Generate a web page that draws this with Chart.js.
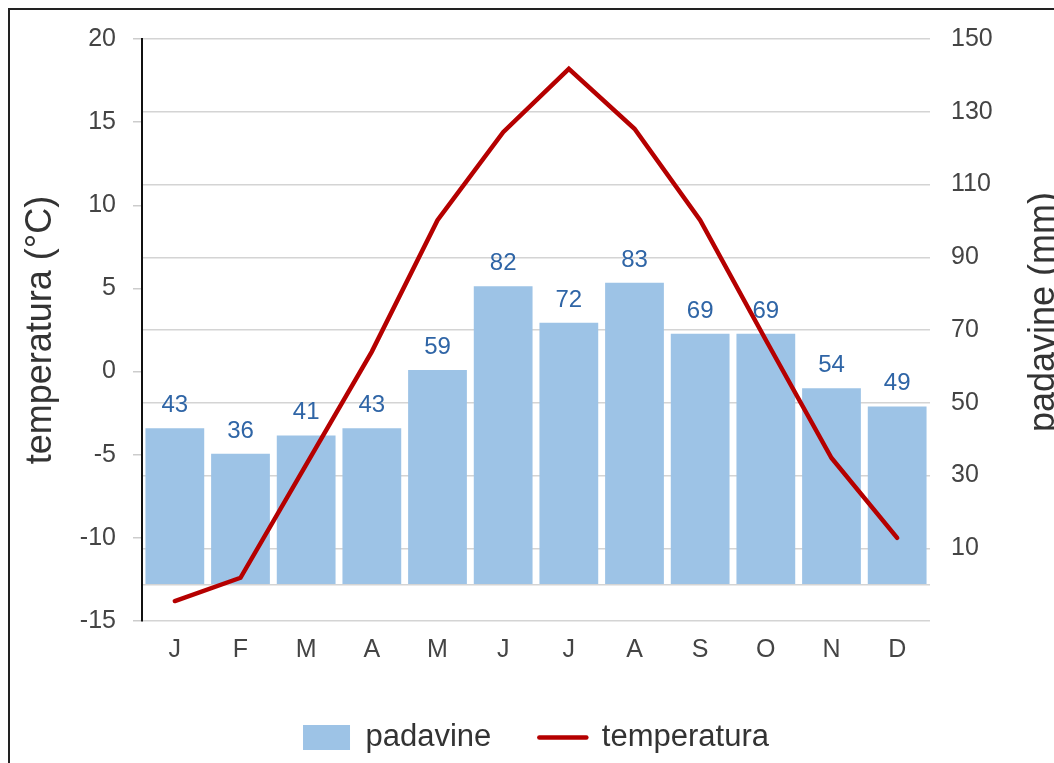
<!DOCTYPE html>
<html>
<head>
<meta charset="utf-8">
<script src="https://cdn.jsdelivr.net/npm/chart.js@4.4.1/dist/chart.umd.min.js"></script>
<style>
  html, body { margin: 0; padding: 0; background: #fff; overflow: hidden; }
  #wrap { position: absolute; left: 0; top: 0; width: 1054px; height: 763px; }
  #frame { position: absolute; left: 8px; top: 8px; width: 1100px; height: 800px;
           border-left: 2px solid #222; border-top: 2px solid #222; pointer-events: none; }
</style>
</head>
<body>
<div id="wrap"><canvas id="c" width="1054" height="763"></canvas></div>
<div id="frame"></div>
<script>
const months = ['J','F','M','A','M','J','J','A','S','O','N','D'];
const precipitation = [43, 36, 41, 43, 59, 82, 72, 83, 69, 69, 54, 49];
const temperature = [-13.8, -12.4, -5.6, 1.2, 9.1, 14.4, 18.2, 14.6, 9.1, 1.9, -5.2, -10.0];
const tempTicks = [-15, -10, -5, 0, 5, 10, 15, 20];
const rainTicks = [-10, 0, 10, 30, 50, 70, 90, 110, 130, 150];
const rainHiddenLabels = [-10, 0];

const FONT = "'Liberation Sans', Arial, sans-serif";

const barLabels = {
  id: 'barLabels',
  afterDatasetDraw(chart, args) {
    if (args.index !== 0) return;
    const ctx = chart.ctx;
    const meta = args.meta;
    ctx.save();
    ctx.font = "24px " + FONT;
    ctx.fillStyle = '#2f65a6';
    ctx.textAlign = 'center';
    ctx.textBaseline = 'alphabetic';
    meta.data.forEach((el, i) => {
      ctx.fillText(String(precipitation[i]), el.x, el.y - 16);
    });
    ctx.restore();
  }
};

const rightTitle = {
  id: 'rightTitle',
  afterDraw(chart) {
    const ctx = chart.ctx;
    ctx.save();
    ctx.font = "36px " + FONT;
    ctx.fillStyle = '#333';
    ctx.textAlign = 'center';
    ctx.textBaseline = 'alphabetic';
    ctx.translate(1054, 312);
    ctx.rotate(-Math.PI / 2);
    ctx.fillText('padavine (mm)', 0, 0);
    ctx.restore();
  }
};

new Chart(document.getElementById('c'), {
  data: {
    labels: months,
    datasets: [
      {
        type: 'bar',
        label: 'padavine',
        data: precipitation,
        yAxisID: 'y1',
        backgroundColor: '#9dc3e6',
        borderWidth: 0,
        barPercentage: 0.895,
        categoryPercentage: 1.0,
        order: 1
      },
      {
        type: 'line',
        label: 'temperatura',
        data: temperature,
        yAxisID: 'y',
        borderColor: '#b50000',
        backgroundColor: '#b50000',
        borderWidth: 4.5,
        borderCapStyle: 'round',
        pointRadius: 0,
        pointHoverRadius: 0,
        tension: 0,
        fill: false,
        order: 0
      }
    ]
  },
  plugins: [barLabels, rightTitle],
  options: {
    responsive: false,
    animation: false,
    devicePixelRatio: 1,
    layout: { padding: { left: 0, right: 0, top: 39, bottom: 0 } },
    plugins: {
      tooltip: { enabled: false },
      legend: {
        display: true,
        position: 'bottom',
        fullSize: false,
        labels: {
          usePointStyle: true,
          pointStyleWidth: 47,
          boxHeight: 25,
          padding: 48,
          color: '#333',
          font: { family: FONT, size: 31 },
          sort: (a, b) => a.datasetIndex - b.datasetIndex,
          generateLabels(chart) {
            const items = Chart.defaults.plugins.legend.labels.generateLabels(chart);
            items.forEach(it => {
              const ds = chart.data.datasets[it.datasetIndex];
              if (ds.type === 'line') {
                it.pointStyle = 'line';
                it.lineWidth = 4.5;
                it.strokeStyle = ds.borderColor;
                it.fillStyle = ds.borderColor;
                it.lineCap = 'round';
              } else {
                it.pointStyle = 'rect';
                it.lineWidth = 0;
                it.fillStyle = ds.backgroundColor;
              }
            });
            return items;
          }
        }
      }
    },
    scales: {
      x: {
        position: 'bottom',
        grid: { display: false, drawTicks: false },
        border: { display: false },
        ticks: { color: '#444', font: { family: FONT, size: 25 }, padding: 14, maxRotation: 0 },
        afterFit(scale) { scale.height = 53; }
      },
      y: {
        position: 'left',
        min: -15,
        max: 20,
        afterBuildTicks(scale) { scale.ticks = tempTicks.map(v => ({ value: v })); },
        grid: { drawOnChartArea: false, drawTicks: true, tickLength: 9, color: '#cccccc', lineWidth: 1.5 },
        border: { display: true, color: '#111', width: 2 },
        ticks: { color: '#444', font: { family: FONT, size: 25 }, padding: 17 },
        title: {
          display: true,
          text: 'temperatura (°C)',
          color: '#333',
          font: { family: FONT, size: 36 },
          padding: { top: 19, bottom: 0 }
        },
        afterFit(scale) { scale.width = 142; }
      },
      y1: {
        position: 'right',
        min: -10,
        max: 150,
        afterBuildTicks(scale) { scale.ticks = rainTicks.map(v => ({ value: v })); },
        grid: { drawOnChartArea: true, drawTicks: false, color: '#d4d4d4', lineWidth: 1.5 },
        border: { display: false },
        ticks: {
          color: '#444',
          font: { family: FONT, size: 25 },
          padding: 21,
          callback: (v) => rainHiddenLabels.includes(v) ? '' : String(v)
        },
        afterFit(scale) { scale.width = 124; }
      }
    }
  }
});
</script>
</body>
</html>
